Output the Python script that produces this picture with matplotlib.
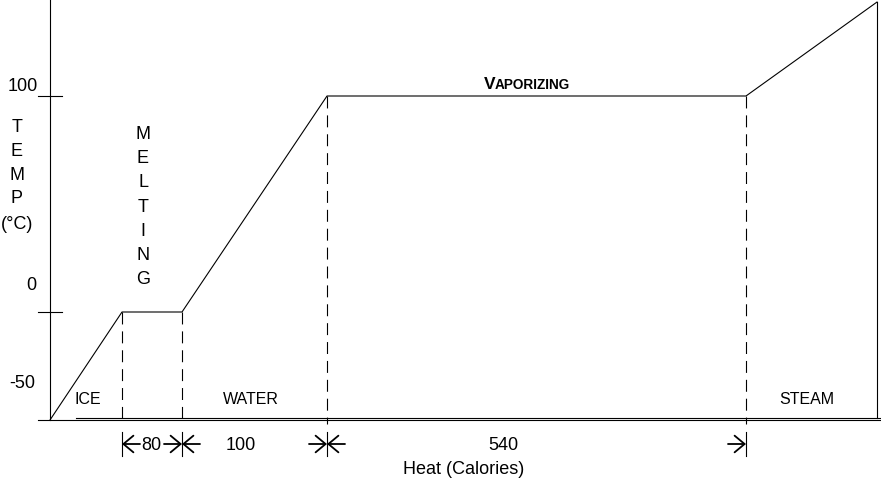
import matplotlib
matplotlib.use("Agg")
import matplotlib.pyplot as plt
from matplotlib import font_manager

# ---- data (schematic heating curve of water) ----
phases = ["ICE", "MELTING", "WATER", "VAPORIZING", "STEAM"]
heat_pts = [0, 72, 132, 277, 696, 827]          # schematic heat axis positions
temp_pts = [-50, 0, 0, 100, 100, 143.5]         # temperature (°C)
ytick_vals = [100, 0, -50]
ytick_labels = ["100", "0", "-50"]
dim_values = ["80", "100", "540"]               # latent/sensible heat (calories)

# ---- fonts ----
avail = {f.name for f in font_manager.fontManager.ttflist}
fam = ["Liberation Sans Narrow", "Liberation Sans", "DejaVu Sans"]
fam = [f for f in fam if f in avail] or ["DejaVu Sans"]
plt.rcParams["font.family"] = fam
plt.rcParams["lines.scale_dashes"] = False

W, H = 881, 485
fig = plt.figure(figsize=(W / 100, H / 100), dpi=100)
ax = fig.add_axes([0, 0, 1, 1])
ax.axis("off")

# pixel -> data helpers (layout only)
ORIGIN_PX = 50
ZERO_PY = 313
PX_PER_DEG = 2.16
def X(px):
    return px - ORIGIN_PX
def Y(py):
    return (ZERO_PY - py) / PX_PER_DEG

ax.set_xlim(X(0), X(W))
ax.set_ylim(Y(H), Y(0))

lw = 0.8
k = "black"
FS = 13

# heating curve
ax.plot(heat_pts, temp_pts, color=k, lw=lw, solid_joinstyle="miter", clip_on=False)

# axes frame lines
ax.plot([0, 0], [temp_pts[0], Y(0)], color=k, lw=lw, clip_on=False)
ax.plot([X(38), X(W)], [temp_pts[0], temp_pts[0]], color=k, lw=lw, clip_on=False)
ax.plot([X(76), X(W)], [Y(419.3), Y(419.3)], color=k, lw=lw, clip_on=False)
ax.plot([heat_pts[-1], heat_pts[-1]], [temp_pts[-1], Y(419.3)], color=k, lw=lw, clip_on=False)

# y ticks and labels
for v, lab in zip(ytick_vals, ytick_labels):
    if v != -50:
        ax.plot([X(38), X(62)], [v, v], color=k, lw=lw)
lab_pos = {"100": (22.5, 87), "0": (31, 286), "-50": (22.5, 383)}
for lab in ytick_labels:
    px, py = lab_pos[lab]
    ax.text(X(px), Y(py), lab, ha="center", va="center", fontsize=FS, color=k)

# y-axis title stacked
for txt, py in zip(["T", "E", "M", "P", "(°C)"], [128, 152, 176, 199, 225]):
    ax.text(X(17), Y(py), txt, ha="center", va="center", fontsize=FS, color=k)

# MELTING stacked
for i, ch in enumerate("MELTING"):
    ax.text(X(143), Y(134.5 + 24.25 * i), ch, ha="center", va="center", fontsize=FS, color=k)

# VAPORIZING small caps bold
vt = ax.text(X(484), Y(89), "V", ha="left", va="baseline", fontsize=12.5,
             fontweight="bold", color=k)
fig.canvas.draw()
bb = vt.get_window_extent(renderer=fig.canvas.get_renderer())
x_right = ax.transData.inverted().transform((bb.x1, bb.y0))[0]
ax.text(x_right - 0.5, Y(89), "APORIZING", ha="left", va="baseline", fontsize=9.8,
        fontweight="bold", color=k)

# phase labels
for txt, px in zip(["ICE", "WATER", "STEAM"], [88, 251, 807]):
    ax.text(X(px), Y(399), txt, ha="center", va="center", fontsize=11.5, color=k)

# dashed phase boundaries + dimension extension lines
bounds = heat_pts[1:5]
bound_temps = temp_pts[1:5]
for hx, tv in zip(bounds, bound_temps):
    ax.plot([hx, hx], [tv, Y(425)], color=k, lw=lw, linestyle=(0, (8.6, 5.0)), clip_on=False)
    ax.plot([hx, hx], [Y(433), Y(457)], color=k, lw=lw, clip_on=False)

# dimension arrows and values
ya = Y(445)
alen = 18
arrow_kw = dict(arrowstyle="->,head_length=0.6,head_width=0.5", color=k, lw=1.3,
                mutation_scale=12, shrinkA=0, shrinkB=0)
def arrow(x_from, x_to):
    ax.annotate("", xy=(x_to, ya), xytext=(x_from, ya), arrowprops=arrow_kw, annotation_clip=False)

segs = [(bounds[0], bounds[1]), (bounds[1], bounds[2]), (bounds[2], bounds[3])]
for (a, b), val in zip(segs, dim_values):
    arrow(a + alen, a)
    arrow(b - alen, b)
val_px = [151, 241, 503]
for val, px in zip(dim_values, val_px):
    ax.text(X(px), ya, val, ha="center", va="center", fontsize=FS, color=k)

# x-axis title
ax.text(X(464), Y(469), "Heat (Calories)", ha="center", va="center", fontsize=FS, color=k)

fig.savefig("out.png", dpi=100)
